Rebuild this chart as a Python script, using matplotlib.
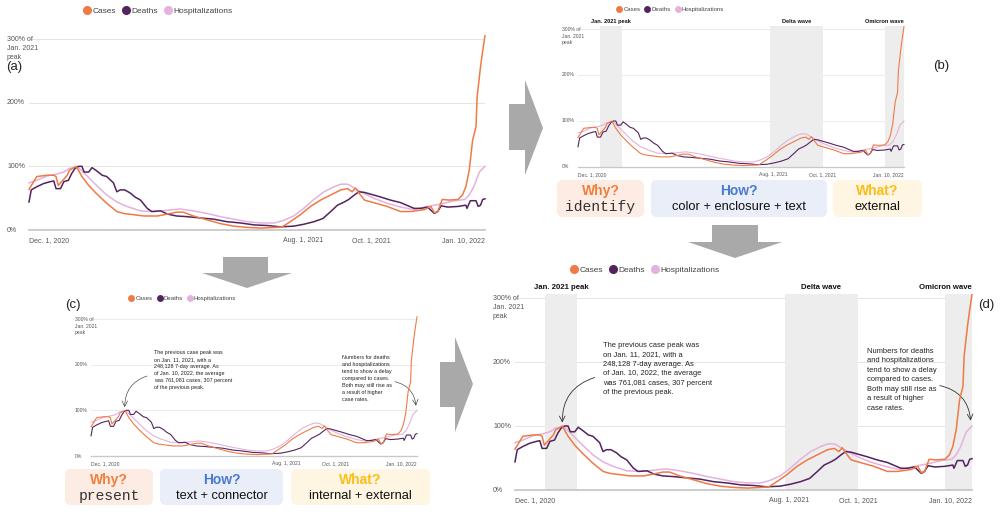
import matplotlib
matplotlib.use("Agg")
import matplotlib.pyplot as plt
from matplotlib.lines import Line2D
from matplotlib.patches import Polygon, FancyBboxPatch
import matplotlib.transforms as mtransforms

plt.rcParams['font.family'] = ['Liberation Sans', 'DejaVu Sans']

W, H = 1003, 512

# Data: days since Dec. 1, 2020, percent of Jan. 2021 peak
cases_day = [0, 7, 16, 22, 24, 26, 29, 34, 36, 39, 42, 47, 53, 60, 69, 78, 84, 93, 102, 114,
             123, 131, 137, 146, 158, 170, 182, 194, 206, 218, 225, 232, 241, 250, 259, 268, 277,
             283, 287, 290, 293, 298, 306, 318, 330, 339, 351, 357, 360, 363, 367, 373, 381, 385,
             388, 391, 394, 397, 398, 401, 403, 405]
cases_pct = [64, 84, 86, 86, 84, 70, 76, 86, 94, 97, 100, 84, 70, 57, 42, 29, 26, 24, 22, 22,
             25, 28, 28, 22, 16, 10, 6, 4, 3, 4, 5, 13, 24, 37, 47, 55, 63,
             65, 60, 66, 58, 47, 43, 37, 29, 29, 32, 37, 27, 29, 48, 47, 48, 55,
             68, 94, 141, 162, 209, 256, 282, 305]

deaths_day = [0, 2, 7, 13, 19, 22, 24, 28, 31, 35, 38, 41, 44, 47, 49, 53, 56, 60, 65, 69,
              72, 75, 78, 81, 85, 90, 94, 99, 105, 109, 117, 123, 131, 140, 152, 164, 176, 188,
              200, 212, 223, 235, 244, 253, 261, 268, 274, 280, 284, 289, 293, 298, 304, 312,
              321, 330, 338, 342, 348, 354, 360, 363, 366, 372, 381, 388, 389, 392, 397, 399,
              401, 403, 405]
deaths_pct = [44, 63, 68, 73, 76, 77, 65, 65, 76, 78, 89, 97, 100, 100, 91, 91, 98, 93, 86, 84,
              79, 74, 60, 63, 63, 58, 52, 47, 34, 29, 30, 25, 22, 21, 19, 17, 13, 11,
              8, 7, 5, 6, 9, 13, 18, 29, 39, 44, 48, 55, 60, 59, 56, 52,
              47, 43, 37, 34, 34, 36, 26, 29, 38, 36, 37, 39, 34, 46, 46, 37,
              39, 48, 49]

hosp_day = [0, 7, 16, 25, 31, 36, 44, 51, 60, 69, 78, 87, 99, 111, 123, 134, 146, 158, 170, 182,
            194, 206, 218, 226, 235, 244, 253, 262, 271, 277, 283, 289, 298, 306, 318, 330, 342,
            354, 366, 378, 387, 391, 395, 400, 405]
hosp_pct = [74, 78, 85, 88, 91, 97, 98, 86, 70, 55, 44, 37, 30, 29, 31, 33, 30, 26, 21, 17,
            13, 11, 11, 15, 22, 34, 48, 60, 68, 72, 72, 66, 57, 50, 42, 36, 32,
            37, 41, 46, 48, 55, 68, 91, 100]

series_names = ["Cases", "Deaths", "Hospitalizations"]
series_colors = ["#ef7a45", "#52235f", "#e3b2de"]

xtick_days = [0, 243, 304, 405]
xtick_labels = ["Dec. 1, 2020", "Aug. 1, 2021", "Oct. 1, 2021", "Jan. 10, 2022"]
ytick_vals = [0, 100, 200]
ytick_labels = ["0%", "100%", "200%"]

band_names = ["Jan. 2021 peak", "Delta wave", "Omicron wave"]
band_start = [27, 239, 381]
band_end = [55, 304, 405]

note_left = ("The previous case peak was\non Jan. 11, 2021, with a\n248,128 7-day average. As\n"
             "of Jan. 10, 2022, the average\nwas 761,081 cases, 307 percent\nof the previous peak.")
note_right = ("Numbers for deaths\nand hospitalizations\ntend to show a delay\ncompared to cases.\n"
              "Both may still rise as\na result of higher\ncase rates.")

fig = plt.figure(figsize=(W / 100, H / 100), dpi=100)


def add_panel(x0, x1, y0px, y300px, s, legend_xy, bands=False, notes=False):
    top = 312
    h = (y0px - y300px) * top / 300
    ax = fig.add_axes([x0 / W, 1 - y0px / H, (x1 - x0) / W, h / H])
    ax.set_xlim(0, 405)
    ax.set_ylim(0, top)
    ax.axis('off')

    for v in [100, 200, 300]:
        ax.axhline(v, color='#e4e4e4', lw=0.7 * s, zorder=0)
    ax.axhline(0, color='#c8c8c8', lw=1.3 * s, zorder=1, clip_on=False)

    if bands:
        for name, a, b in zip(band_names, band_start, band_end):
            ax.fill_between([a, b], 0, 306, color='#ededed', lw=0, zorder=0)
        ax.text((band_start[0] + band_end[0]) / 2, 317, band_names[0], ha='center', va='center',
                fontsize=5.6 * s, fontweight='bold', color='#111')
        ax.text((band_start[1] + band_end[1]) / 2, 317, band_names[1], ha='center', va='center',
                fontsize=5.6 * s, fontweight='bold', color='#111')
        ax.text(405, 317, band_names[2], ha='right', va='center',
                fontsize=5.6 * s, fontweight='bold', color='#111')

    lw = 1.1 * s
    ax.plot(hosp_day, hosp_pct, color=series_colors[2], lw=lw, zorder=3, clip_on=False)
    ax.plot(deaths_day, deaths_pct, color=series_colors[1], lw=lw, zorder=4, clip_on=False)
    ax.plot(cases_day, cases_pct, color=series_colors[0], lw=lw, zorder=5, clip_on=False)

    # y labels sit left of the plot
    lab_x = -(x0 - legend_xy[2]) / (x1 - x0)
    trans = mtransforms.blended_transform_factory(ax.transAxes, ax.transData)
    for v, t in zip(ytick_vals, ytick_labels):
        ax.text(lab_x, v, t, transform=trans, ha='left', va='center', fontsize=5 * s, color='#555')
    ax.text(lab_x, 304, "300% of\nJan. 2021\npeak", transform=trans, ha='left', va='top',
            fontsize=5 * s, color='#555', linespacing=1.35)

    for d, t in zip(xtick_days, xtick_labels):
        ha = 'left' if d == 0 else ('right' if d == 405 else 'center')
        ax.annotate(t, (d, 0), xytext=(0, -5 * s), textcoords='offset points', ha=ha, va='top',
                    fontsize=5 * s, color='#555')

    handles = [Line2D([], [], marker='o', ls='', color=c, markersize=5.5 * s) for c in series_colors]
    fig.legend(handles, series_names, loc='center left',
               bbox_to_anchor=(legend_xy[0] / W, 1 - legend_xy[1] / H), ncol=3, frameon=False,
               fontsize=6 * s, handletextpad=0.25, columnspacing=0.8, borderpad=0,
               borderaxespad=0, handlelength=0.8, labelcolor='#444')

    if notes:
        ax.text(78, 232, note_left, ha='left', va='top', fontsize=5.4 * s, color='#222',
                linespacing=1.5)
        ax.text(312, 222, note_right, ha='left', va='top', fontsize=5.4 * s, color='#222',
                linespacing=1.5)
        ax.annotate('', xy=(42, 101), xytext=(73, 177),
                    arrowprops=dict(arrowstyle='->', color='#333', lw=0.6 * s,
                                    connectionstyle='arc3,rad=0.4'))
        ax.annotate('', xy=(404, 104), xytext=(374, 164),
                    arrowprops=dict(arrowstyle='->', color='#333', lw=0.6 * s,
                                    connectionstyle='arc3,rad=-0.4'))
    return ax


# (a), (b), (c), (d)
add_panel(29, 485, 230, 39, 1.0, (84, 11, 7))
add_panel(578, 904, 167, 29, 0.72, (617, 9, 562), bands=True)
add_panel(91, 417, 456, 319, 0.72, (129, 298, 75), notes=True)
add_panel(515, 972, 490, 298, 1.0, (571, 270, 493), bands=True, notes=True)

# overlay for arrows, boxes and panel letters
ov = fig.add_axes([0, 0, 1, 1], zorder=10)
ov.set_xlim(0, W)
ov.set_ylim(H, 0)
ov.axis('off')
ov.patch.set_alpha(0)

arrow_color = '#a9a9a9'
ov.add_patch(Polygon([(509, 104), (525, 104), (525, 80), (543, 128), (525, 175), (525, 150), (509, 150)],
                     closed=True, color=arrow_color, lw=0))
ov.add_patch(Polygon([(223, 257), (268, 257), (268, 273), (292, 273), (247, 288), (202, 273), (223, 273)],
                     closed=True, color=arrow_color, lw=0))
ov.add_patch(Polygon([(712, 225), (758, 225), (758, 242), (782, 242), (735, 258), (688, 242), (712, 242)],
                     closed=True, color=arrow_color, lw=0))
ov.add_patch(Polygon([(440, 362), (455, 362), (455, 337), (473, 384), (455, 432), (455, 407), (440, 407)],
                     closed=True, color=arrow_color, lw=0))

ov.text(6, 67, "(a)", fontsize=9.5, ha='left', va='center', color='#222')
ov.text(933, 66, "(b)", fontsize=9.5, ha='left', va='center', color='#222')
ov.text(65, 305, "(c)", fontsize=9.5, ha='left', va='center', color='#222')
ov.text(978, 305, "(d)", fontsize=9.5, ha='left', va='center', color='#222')

box_titles = ["Why?", "How?", "What?"]
box_title_colors = ["#f07f3c", "#4b7bd1", "#fbbd16"]
box_fill = ["#fdece3", "#e9eef8", "#fef5e2"]


def add_boxes(y_top, y_bot, xs, bodies):
    for i, ((a, b), body) in enumerate(zip(xs, bodies)):
        ov.add_patch(FancyBboxPatch((a, y_top), b - a, y_bot - y_top,
                                    boxstyle='round,pad=0,rounding_size=6',
                                    fc=box_fill[i], ec='none'))
        cx = (a + b) / 2
        h = y_bot - y_top
        ov.text(cx, y_top + h * 0.31, box_titles[i], ha='center', va='center', fontsize=10,
                fontweight='bold', color=box_title_colors[i])
        if i == 0:
            ov.text(cx, y_top + h * 0.74, body, ha='center', va='center', fontsize=10.5,
                    family='Liberation Mono', color='#333')
        else:
            ov.text(cx, y_top + h * 0.74, body, ha='center', va='center', fontsize=9.3,
                    color='#111')


add_boxes(180, 217, [(557, 644), (651, 827), (833, 922)],
          ["identify", "color + enclosure + text", "external"])
add_boxes(469, 505, [(65, 153), (160, 283), (291, 430)],
          ["present", "text + connector", "internal + external"])

fig.savefig("out.png", dpi=100)
